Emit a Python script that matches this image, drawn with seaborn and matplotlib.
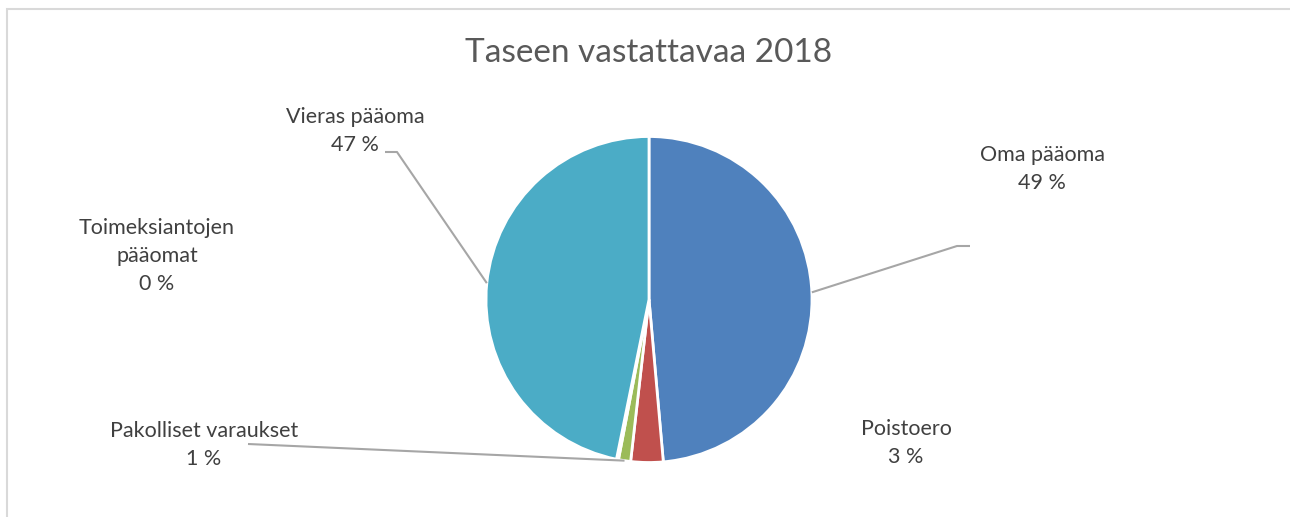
import numpy as np
import matplotlib
matplotlib.use("Agg")
import matplotlib.pyplot as plt
import seaborn as sns

# data
categories = ["Oma pääoma", "Poistoero", "Pakolliset varaukset",
              "Toimeksiantojen\npääomat", "Vieras pääoma"]
values = [48.6, 3.2, 1.2, 0.2, 46.8]
colors = ["#4F81BD", "#C0504D", "#9BBB59", "#8064A2", "#4BACC6"]
title = "Taseen vastattavaa 2018"

sns.set_theme(style="white")
plt.rcParams["font.family"] = ["Lato", "DejaVu Sans"]

W, H = 1290, 517
fig = plt.figure(figsize=(W / 100, H / 100), dpi=100)
ax = fig.add_axes([0, 0, 1, 1])

cx, cy, r = 649, H - 299.5, 163
wedges, _ = ax.pie(values, colors=colors, startangle=90, counterclock=False,
                   center=(cx, cy), radius=r, frame=True,
                   wedgeprops=dict(edgecolor="white", linewidth=2))
ax.set_xlim(0, W)
ax.set_ylim(0, H)
ax.set_aspect("equal")
ax.axis("off")

# chart border (top and left visible)
fig.add_artist(plt.Rectangle((7 / W, -0.1), 1.2, (H - 9) / H + 0.1,
                             transform=fig.transFigure, fill=False,
                             edgecolor="#D9D9D9", linewidth=1.5))

ax.text(cx, H - 53, title, ha="center", va="center", fontsize=24, color="#595959")

txt_color = "#404040"
pcts = [f"{round(v)} %" for v in values]
# label centres (x, y in px from top) and leader elbow (None = no line)
label_pos = [(1042, 169), (906, 443), (204, 445), (157, 256), (355, 131)]
elbows = [[(957, 246), (970, 246)], None, [(248, 444)], None, [(397, 152), (385, 152)]]

cum = np.cumsum([0] + values[:-1])
total = sum(values)
for i, (lab, p) in enumerate(zip(categories, pcts)):
    lx, ly = label_pos[i]
    ax.text(lx, H - ly, f"{lab}\n{p}", ha="center", va="center", fontsize=15.5,
            color=txt_color, linespacing=1.5)
    if elbows[i] is not None:
        mid = (cum[i] + values[i] / 2) / total * 2 * np.pi
        sx = cx + r * np.sin(mid)
        sy = cy + r * np.cos(mid)
        xs = [sx] + [e[0] for e in elbows[i]]
        ys = [sy] + [H - e[1] for e in elbows[i]]
        ax.plot(xs, ys, color="#A6A6A6", linewidth=1.5, solid_capstyle="butt")

fig.savefig("out.png", dpi=100, facecolor="white")
